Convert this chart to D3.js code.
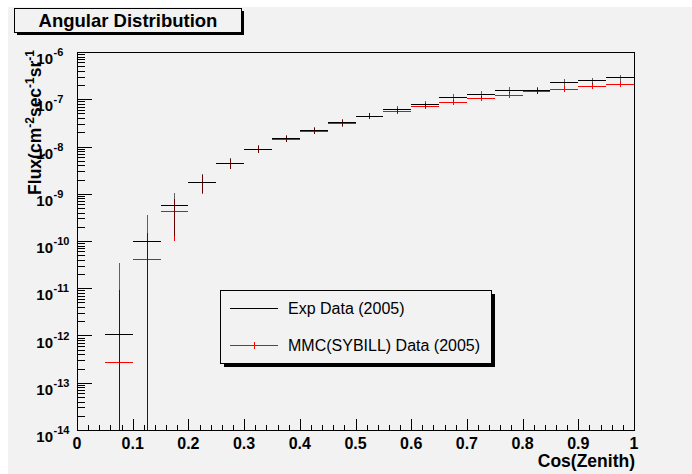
<!DOCTYPE html>
<html>
<head>
<meta charset="utf-8">
<script src="https://cdn.jsdelivr.net/npm/d3@7"></script>
<style>
html,body{margin:0;padding:0;background:#fff;}
svg{display:block;font-family:"Liberation Sans",Arial,Helvetica,sans-serif;}
</style>
</head>
<body>
<svg id="chart" width="692" height="474"></svg>
<script>
// ---- data ----
const binLow  = [0.05,0.10,0.15,0.20,0.25,0.30,0.35,0.40,0.45,0.50,0.55,0.60,0.65,0.70,0.75,0.80,0.85,0.90,0.95];
const binHigh = [0.10,0.15,0.20,0.25,0.30,0.35,0.40,0.45,0.50,0.55,0.60,0.65,0.70,0.75,0.80,0.85,0.90,0.95,1.00];
const expFlux = [1.05e-12,9.8e-11,5.9e-10,1.8e-9,4.5e-9,8.9e-9,1.49e-8,2.2e-8,3.25e-8,4.5e-8,6.2e-8,7.8e-8,1.1e-7,1.27e-7,1.6e-7,1.55e-7,2.28e-7,2.5e-7,2.9e-7];
const expErr  = [3.4e-11,2.5e-10,4.6e-10,8e-10,1.1e-9,1.7e-9,2.5e-9,3.3e-9,6e-9,7e-9,1.0e-8,1.2e-8,1.7e-8,2.0e-8,2.4e-8,2.4e-8,3.4e-8,3.8e-8,4.4e-8];
const mmcFlux = [2.75e-13,4.1e-11,4.4e-10,1.75e-9,4.4e-9,8.7e-9,1.47e-8,2.15e-8,3.2e-8,4.4e-8,5.6e-8,7.2e-8,8.6e-8,1.05e-7,1.25e-7,1.5e-7,1.67e-7,1.94e-7,2.14e-7];
const mmcErr  = [8.7e-12,1.04e-10,3.4e-10,7e-10,1.0e-9,1.5e-9,2.3e-9,3.2e-9,4.5e-9,6e-9,8e-9,1.0e-8,1.2e-8,1.5e-8,1.8e-8,2.1e-8,2.4e-8,2.8e-8,3.1e-8];
const xTicks = [0,0.1,0.2,0.3,0.4,0.5,0.6,0.7,0.8,0.9,1];
const xTickLabels = ["0","0.1","0.2","0.3","0.4","0.5","0.6","0.7","0.8","0.9","1"];
const yExponents = [-6,-7,-8,-9,-10,-11,-12,-13,-14];
const seriesNames = ["Exp Data (2005)","MMC(SYBILL) Data (2005)"];
const seriesColors = ["#000000","#ff0000"];

// ---- layout ----
const svg = d3.select("#chart");
const L = 77, R = 634, T = 52, B = 430;
const x = d3.scaleLinear().domain([0,1]).range([L,R]);
const y = d3.scaleLog().domain([1e-14,1e-6]).range([B,T]);

// background
svg.append("rect").attr("x",0).attr("y",0).attr("width",692).attr("height",474).attr("fill","#ffffff");
svg.append("rect").attr("x",8).attr("y",7).attr("width",684).attr("height",467).attr("fill","#f2f2f2");

// clip
svg.append("clipPath").attr("id","plotclip").append("rect")
  .attr("x",L).attr("y",T).attr("width",R-L).attr("height",B-T);

// frame
svg.append("rect").attr("x",L).attr("y",T).attr("width",R-L).attr("height",B-T)
  .attr("fill","none").attr("stroke","#000").attr("stroke-width",1).attr("shape-rendering","crispEdges");

// x axis ticks
const xMinor = d3.range(0,51).map(i=>i/50);
const gx = svg.append("g").attr("shape-rendering","crispEdges");
gx.selectAll("line.minor").data(xMinor).join("line")
  .attr("x1",d=>Math.round(x(d))+0.5).attr("x2",d=>Math.round(x(d))+0.5)
  .attr("y1",B).attr("y2",d=> (Math.abs(d*10-Math.round(d*10))<1e-6) ? B-11 : B-5.5)
  .attr("stroke","#000").attr("stroke-width",1);
gx.append("line").attr("x1",L).attr("x2",R).attr("y1",B+0.5).attr("y2",B+0.5).attr("stroke","#000").attr("stroke-width",1.5);
svg.selectAll("text.xl").data(xTicks).join("text").attr("class","xl")
  .attr("x",d=>x(d)).attr("y",449).attr("text-anchor","middle")
  .attr("font-size",16).attr("font-weight","bold").text((d,i)=>xTickLabels[i]);
svg.append("text").attr("x",R+1).attr("y",467).attr("text-anchor","end")
  .attr("font-size",17.5).attr("font-weight","bold").text("Cos(Zenith)");

// y axis ticks
const gy = svg.append("g").attr("shape-rendering","crispEdges");
gy.append("line").attr("x1",L+0.5).attr("x2",L+0.5).attr("y1",T).attr("y2",B).attr("stroke","#000").attr("stroke-width",1.5);
const yMinor = [];
yExponents.forEach(e=>{ if(e<-6){ for(let m=2;m<=9;m++) yMinor.push(m*Math.pow(10,e)); } });
gy.selectAll("line.ymin").data(yMinor).join("line")
  .attr("x1",L).attr("x2",L+8)
  .attr("y1",d=>Math.round(y(d))+0.5).attr("y2",d=>Math.round(y(d))+0.5)
  .attr("stroke","#000");
gy.selectAll("line.ymaj").data(yExponents).join("line")
  .attr("x1",L).attr("x2",L+15)
  .attr("y1",d=>Math.round(y(Math.pow(10,d)))+0.5).attr("y2",d=>Math.round(y(Math.pow(10,d)))+0.5)
  .attr("stroke","#000");
const ylab = svg.selectAll("g.yl").data(yExponents).join("g").attr("class","yl")
  .attr("transform",d=>`translate(0,${y(Math.pow(10,d))})`);
ylab.append("text").attr("x",53).attr("y",12).attr("text-anchor","end")
  .attr("font-size",15).attr("font-weight","bold").text("10");
ylab.append("text").attr("x",53.5).attr("y",4).attr("text-anchor","start")
  .attr("font-size",11).attr("font-weight","bold").text(d=>String(d));

// y title
const yt = svg.append("text").attr("transform","translate(41,50) rotate(-90)")
  .attr("text-anchor","end").attr("font-size",17.5).attr("font-weight","bold");
yt.append("tspan").text("Flux(cm");
yt.append("tspan").attr("dy",-7).attr("font-size",12).text("-2");
yt.append("tspan").attr("dy",7).text("sec");
yt.append("tspan").attr("dy",-7).attr("font-size",12).text("-1");
yt.append("tspan").attr("dy",7).text("sr");
yt.append("tspan").attr("dy",-7).attr("font-size",12).text("-1");

// data series
function drawSeries(vals, errs, color, vOpacity){
  const g = svg.append("g").attr("clip-path","url(#plotclip)").attr("shape-rendering","crispEdges");
  const idx = d3.range(vals.length);
  g.selectAll("line.v").data(idx).join("line")
    .attr("x1",i=>Math.round(x((binLow[i]+binHigh[i])/2))+0.5)
    .attr("x2",i=>Math.round(x((binLow[i]+binHigh[i])/2))+0.5)
    .attr("y1",i=>y(vals[i]+errs[i]))
    .attr("y2",i=>{const lo = vals[i]-errs[i]; return lo>1e-14 ? y(lo) : B+2;})
    .attr("stroke",color).attr("stroke-width",1.5).attr("stroke-opacity",vOpacity);
  g.selectAll("line.h").data(idx).join("line")
    .attr("x1",i=>x(binLow[i])).attr("x2",i=>x(binHigh[i]))
    .attr("y1",i=>Math.round(y(vals[i]))+0.5).attr("y2",i=>Math.round(y(vals[i]))+0.5)
    .attr("stroke",color).attr("stroke-width",1.5);
}
drawSeries(mmcFlux, mmcErr, seriesColors[1], 1);
drawSeries(expFlux, expErr, seriesColors[0], 0.6);

// legend
const lg = svg.append("g").attr("shape-rendering","crispEdges");
lg.append("rect").attr("x",224).attr("y",294).attr("width",271).attr("height",73).attr("fill","#000");
lg.append("rect").attr("x",220.5).attr("y",290.5).attr("width",271).attr("height",73)
  .attr("fill","#f2f2f2").attr("stroke","#000").attr("stroke-width",1);
const ly = [308, 345];
seriesNames.forEach((n,i)=>{
  lg.append("line").attr("x1",230).attr("x2",278).attr("y1",ly[i]+0.5).attr("y2",ly[i]+0.5)
    .attr("stroke",seriesColors[i]).attr("stroke-width",1);
  if(i===1){
    lg.append("line").attr("x1",254.5).attr("x2",254.5).attr("y1",ly[i]-3).attr("y2",ly[i]+4)
      .attr("stroke",seriesColors[i]).attr("stroke-width",1);
  }
  svg.append("text").attr("x",288).attr("y",ly[i]+6).attr("font-size",16).attr("fill","#000").text(n);
});

// title box
svg.append("rect").attr("x",17).attr("y",11).attr("width",227).attr("height",24).attr("fill","#000");
svg.append("rect").attr("x",14.5).attr("y",8.5).attr("width",227).attr("height",24)
  .attr("fill","#f2f2f2").attr("stroke","#000").attr("stroke-width",1).attr("shape-rendering","crispEdges");
svg.append("text").attr("x",128).attr("y",27).attr("text-anchor","middle")
  .attr("font-size",18.5).attr("font-weight","bold").text("Angular Distribution");
</script>
</body>
</html>
